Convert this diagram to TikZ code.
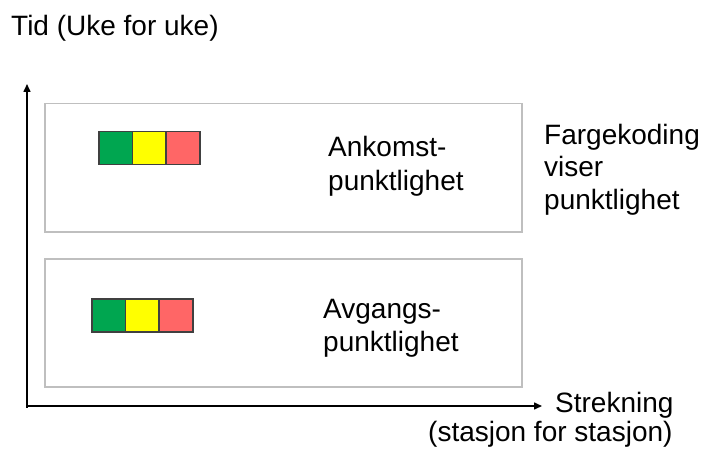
\documentclass[tikz,border=0pt]{standalone}
\usepackage{fontspec}
\setmainfont{Liberation Sans}
\usetikzlibrary{arrows.meta}
\definecolor{kgreen}{HTML}{00A650}
\definecolor{kyellow}{HTML}{FFFF00}
\definecolor{kred}{HTML}{FF6666}
\definecolor{boxgray}{HTML}{BFBFBF}
\begin{document}
\begin{tikzpicture}[x=1pt,y=-1pt,
  lbl/.style={inner sep=0pt,anchor=base west,align=left,font=\fontsize{28}{33}\selectfont},
  panel/.style={draw=boxgray,line width=1.5pt},
  axis/.style={draw=black,line width=1.5pt,-{Triangle[length=8pt,width=7pt]}},
  sq/.style={draw=black!75,line width=1.5pt,minimum width=33.7pt,minimum height=33pt,inner sep=0pt,anchor=north west}]
\useasboundingbox (0,0) rectangle (701,449);
% axes
\coordinate (o) at (27,406);
\coordinate (ytip) at (27,84);
\coordinate (xtip) at (542,406);
\draw[axis] (27,407.5) -- (ytip);
\draw[axis] (26.25,406) -- (xtip);
% panels
\node[panel,inner sep=0pt,minimum width=477pt,minimum height=128pt,anchor=north west] (up) at (44,103) {};
\node[panel,inner sep=0pt,minimum width=477pt,minimum height=128pt,anchor=north west] (lo) at (44,258) {};
% colour squares upper
\node[sq,fill=kgreen] (ug) at (98,131) {};
\node[sq,fill=kyellow] (uy) at (131.7,131) {};
\node[sq,fill=kred] (ur) at (165.4,131) {};
% colour squares lower
\node[sq,fill=kgreen] (lg) at (91,298) {};
\node[sq,fill=kyellow] (ly) at (124.7,298) {};
\node[sq,fill=kred] (lr) at (158.4,298) {};
% texts
\node[lbl] (tid) at (11,36) {Tid (Uke for uke)};
\node[lbl] (ank) at (328,190) {Ankomst-\\punktlighet};
\node[lbl] (avg) at (323,351) {Avgangs-\\punktlighet};
\node[lbl] (farg) at (544,210) {Fargekoding\\viser\\punktlighet};
\node[lbl] (str) at (555,412) {Strekning};
\node[lbl] (sta) at (428,441) {(stasjon for stasjon)};
\end{tikzpicture}
\end{document}
